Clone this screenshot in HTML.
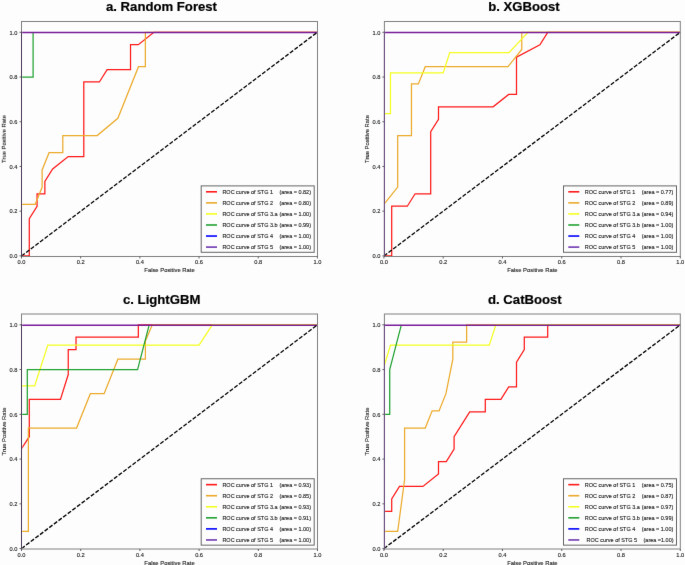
<!DOCTYPE html>
<html><head><meta charset="utf-8"><style>
html,body{margin:0;padding:0;background:#fdfdfd;}
svg{display:block;}
text{font-family:"Liberation Sans", sans-serif;}
.t{font-size:5.7px;fill:#222;stroke:#222;stroke-width:0.12px;}
.al{font-size:5.85px;fill:#222;stroke:#222;stroke-width:0.12px;}
.l{font-size:5.5px;fill:#222;stroke:#222;stroke-width:0.12px;}
.ti{font-size:13.15px;font-weight:bold;fill:#000;stroke:#000;stroke-width:0.2px;}
</style></head><body>
<svg width="685" height="565" viewBox="0 0 685 565">
<defs>
<filter id="bl" x="0" y="0" width="685" height="565" filterUnits="userSpaceOnUse" color-interpolation-filters="sRGB"><feConvolveMatrix order="3" kernelMatrix="0.0028 0.0470 0.0028 0.0470 0.8008 0.0470 0.0028 0.0470 0.0028" divisor="1" edgeMode="duplicate"/></filter>
<clipPath id="ca"><rect x="22.2" y="21.5" width="295.30" height="234.70"/></clipPath>
<clipPath id="cb"><rect x="385.09999999999997" y="21.5" width="295.20" height="234.70"/></clipPath>
<clipPath id="cc"><rect x="22.2" y="314.0" width="295.30" height="234.70"/></clipPath>
<clipPath id="cd"><rect x="385.09999999999997" y="314.0" width="295.20" height="234.70"/></clipPath>
</defs>
<g filter="url(#bl)"><rect width="685" height="565" fill="#fdfdfd"/>
<g clip-path="url(#ca)" fill="none" stroke-width="1.25" stroke-linejoin="miter">
<polyline points="20.60,255.90 29.29,255.90 29.29,218.63 37.07,206.21 37.07,193.79 44.86,193.79 44.86,181.37 52.65,168.94 68.22,156.52 83.79,156.52 83.79,81.99 99.37,81.99 107.16,69.57 130.52,69.57 130.52,44.72 138.30,44.72 153.88,32.30 317.40,32.30" stroke="#ff1a1a"/>
<polyline points="20.60,255.90 20.60,204.30 35.26,204.30 42.14,187.10 42.14,169.90 49.03,152.70 62.79,152.70 62.79,135.50 97.20,135.50 117.84,118.30 138.48,66.70 145.37,66.70 145.37,32.30 317.40,32.30" stroke="#ecaa2c"/>
<polyline points="20.60,255.90 20.60,77.02 33.10,77.02 33.10,32.30" stroke="#22a232"/>
<polyline points="20.60,255.90 20.60,32.30 317.40,32.30" stroke="#7a1e98" stroke-width="1.55" transform="translate(0,0.1)"/>
<line x1="21.5" y1="255.9" x2="317.40" y2="32.30" stroke="#000" stroke-width="1.3" stroke-dasharray="4.1 1.7"/>
</g>
<rect x="21.5" y="21.5" width="296.00" height="235.00" fill="none" stroke="#808080" stroke-width="1"/>
<line x1="21.5" y1="31.60" x2="21.5" y2="257.0" stroke="#4a3858" stroke-width="1"/>
<line x1="21.50" y1="256.5" x2="21.50" y2="258.5" stroke="#555" stroke-width="0.9"/>
<line x1="19.5" y1="255.90" x2="21.5" y2="255.90" stroke="#555" stroke-width="0.9"/>
<text x="21.50" y="264.10" text-anchor="middle" class="t">0.0</text>
<text x="17.50" y="258.20" text-anchor="end" class="t">0.0</text>
<line x1="80.68" y1="256.5" x2="80.68" y2="258.5" stroke="#555" stroke-width="0.9"/>
<line x1="19.5" y1="211.18" x2="21.5" y2="211.18" stroke="#555" stroke-width="0.9"/>
<text x="80.68" y="264.10" text-anchor="middle" class="t">0.2</text>
<text x="17.50" y="213.48" text-anchor="end" class="t">0.2</text>
<line x1="139.86" y1="256.5" x2="139.86" y2="258.5" stroke="#555" stroke-width="0.9"/>
<line x1="19.5" y1="166.46" x2="21.5" y2="166.46" stroke="#555" stroke-width="0.9"/>
<text x="139.86" y="264.10" text-anchor="middle" class="t">0.4</text>
<text x="17.50" y="168.76" text-anchor="end" class="t">0.4</text>
<line x1="199.04" y1="256.5" x2="199.04" y2="258.5" stroke="#555" stroke-width="0.9"/>
<line x1="19.5" y1="121.74" x2="21.5" y2="121.74" stroke="#555" stroke-width="0.9"/>
<text x="199.04" y="264.10" text-anchor="middle" class="t">0.6</text>
<text x="17.50" y="124.04" text-anchor="end" class="t">0.6</text>
<line x1="258.22" y1="256.5" x2="258.22" y2="258.5" stroke="#555" stroke-width="0.9"/>
<line x1="19.5" y1="77.02" x2="21.5" y2="77.02" stroke="#555" stroke-width="0.9"/>
<text x="258.22" y="264.10" text-anchor="middle" class="t">0.8</text>
<text x="17.50" y="79.32" text-anchor="end" class="t">0.8</text>
<line x1="317.40" y1="256.5" x2="317.40" y2="258.5" stroke="#555" stroke-width="0.9"/>
<line x1="19.5" y1="32.30" x2="21.5" y2="32.30" stroke="#555" stroke-width="0.9"/>
<text x="317.40" y="264.10" text-anchor="middle" class="t">1.0</text>
<text x="17.50" y="34.60" text-anchor="end" class="t">1.0</text>
<text x="169.50" y="272.30" text-anchor="middle" class="al">False Positive Rate</text>
<text transform="translate(5.80,139.00) rotate(-90)" text-anchor="middle" class="al">True Positive Rate</text>
<text x="106.0" y="10.8" class="ti">a. Random Forest</text>
<rect x="201.20" y="185.90" width="113.0" height="66.4" fill="#fdfdfd" stroke="#666" stroke-width="1"/>
<line x1="206.00" y1="191.80" x2="217.00" y2="191.80" stroke="#ff1a1a" stroke-width="1.6"/>
<text transform="translate(222.40,193.90) scale(1,1.1)" class="l">ROC curve of STG 1</text>
<text transform="translate(279.40,193.90) scale(1,1.1)" class="l">(area = 0.82)</text>
<line x1="206.00" y1="202.86" x2="217.00" y2="202.86" stroke="#ecaa2c" stroke-width="1.6"/>
<text transform="translate(222.40,204.96) scale(1,1.1)" class="l">ROC curve of STG 2</text>
<text transform="translate(279.40,204.96) scale(1,1.1)" class="l">(area = 0.80)</text>
<line x1="206.00" y1="213.92" x2="217.00" y2="213.92" stroke="#f4ff1c" stroke-width="1.6"/>
<text transform="translate(222.40,216.02) scale(1,1.1)" class="l">ROC curve of STG 3.a</text>
<text transform="translate(279.40,216.02) scale(1,1.1)" class="l">(area = 1.00)</text>
<line x1="206.00" y1="224.98" x2="217.00" y2="224.98" stroke="#22a232" stroke-width="1.6"/>
<text transform="translate(222.40,227.08) scale(1,1.1)" class="l">ROC curve of STG 3.b</text>
<text transform="translate(279.40,227.08) scale(1,1.1)" class="l">(area = 0.99)</text>
<line x1="206.00" y1="236.04" x2="217.00" y2="236.04" stroke="#0000ff" stroke-width="1.6"/>
<text transform="translate(222.40,238.14) scale(1,1.1)" class="l">ROC curve of STG 4</text>
<text transform="translate(279.40,238.14) scale(1,1.1)" class="l">(area = 1.00)</text>
<line x1="206.00" y1="247.10" x2="217.00" y2="247.10" stroke="#7038b0" stroke-width="1.6"/>
<text transform="translate(222.40,249.20) scale(1,1.1)" class="l">ROC curve of STG 5</text>
<text transform="translate(279.40,249.20) scale(1,1.1)" class="l">(area = 1.00)</text>
<g clip-path="url(#cb)" fill="none" stroke-width="1.25" stroke-linejoin="miter">
<polyline points="383.00,255.90 391.70,255.90 391.70,206.21 407.30,206.21 415.10,193.79 430.70,193.79 430.70,131.68 438.50,119.26 438.50,106.83 493.10,106.83 508.70,94.41 516.50,94.41 516.50,57.14 539.90,44.72 547.70,32.30 680.30,32.30" stroke="#ff1a1a"/>
<polyline points="383.00,255.90 383.00,204.30 383.90,204.30 397.69,187.10 397.69,135.50 411.47,135.50 411.47,83.90 418.37,83.90 425.26,66.70 507.97,66.70 521.76,49.50 521.76,32.30 680.30,32.30" stroke="#ecaa2c"/>
<polyline points="383.00,255.90 383.00,113.61 390.49,113.61 390.49,72.95 443.18,72.95 449.77,52.63 509.05,52.63 527.95,32.30 680.30,32.30" stroke="#f4ff1c"/>
<polyline points="383.00,255.90 383.00,32.30 680.30,32.30" stroke="#7a1e98" stroke-width="1.55" transform="translate(0,0.1)"/>
<line x1="383.9" y1="255.9" x2="680.30" y2="32.30" stroke="#000" stroke-width="1.3" stroke-dasharray="4.1 1.7"/>
</g>
<rect x="384.4" y="21.5" width="295.90" height="235.00" fill="none" stroke="#808080" stroke-width="1"/>
<line x1="384.4" y1="31.60" x2="384.4" y2="257.0" stroke="#6a4880" stroke-width="1"/>
<line x1="383.90" y1="256.5" x2="383.90" y2="258.5" stroke="#555" stroke-width="0.9"/>
<line x1="382.4" y1="255.90" x2="384.4" y2="255.90" stroke="#555" stroke-width="0.9"/>
<text x="383.90" y="264.10" text-anchor="middle" class="t">0.0</text>
<text x="380.40" y="258.20" text-anchor="end" class="t">0.0</text>
<line x1="443.18" y1="256.5" x2="443.18" y2="258.5" stroke="#555" stroke-width="0.9"/>
<line x1="382.4" y1="211.18" x2="384.4" y2="211.18" stroke="#555" stroke-width="0.9"/>
<text x="443.18" y="264.10" text-anchor="middle" class="t">0.2</text>
<text x="380.40" y="213.48" text-anchor="end" class="t">0.2</text>
<line x1="502.46" y1="256.5" x2="502.46" y2="258.5" stroke="#555" stroke-width="0.9"/>
<line x1="382.4" y1="166.46" x2="384.4" y2="166.46" stroke="#555" stroke-width="0.9"/>
<text x="502.46" y="264.10" text-anchor="middle" class="t">0.4</text>
<text x="380.40" y="168.76" text-anchor="end" class="t">0.4</text>
<line x1="561.74" y1="256.5" x2="561.74" y2="258.5" stroke="#555" stroke-width="0.9"/>
<line x1="382.4" y1="121.74" x2="384.4" y2="121.74" stroke="#555" stroke-width="0.9"/>
<text x="561.74" y="264.10" text-anchor="middle" class="t">0.6</text>
<text x="380.40" y="124.04" text-anchor="end" class="t">0.6</text>
<line x1="621.02" y1="256.5" x2="621.02" y2="258.5" stroke="#555" stroke-width="0.9"/>
<line x1="382.4" y1="77.02" x2="384.4" y2="77.02" stroke="#555" stroke-width="0.9"/>
<text x="621.02" y="264.10" text-anchor="middle" class="t">0.8</text>
<text x="380.40" y="79.32" text-anchor="end" class="t">0.8</text>
<line x1="680.30" y1="256.5" x2="680.30" y2="258.5" stroke="#555" stroke-width="0.9"/>
<line x1="382.4" y1="32.30" x2="384.4" y2="32.30" stroke="#555" stroke-width="0.9"/>
<text x="680.30" y="264.10" text-anchor="middle" class="t">1.0</text>
<text x="380.40" y="34.60" text-anchor="end" class="t">1.0</text>
<text x="532.35" y="272.30" text-anchor="middle" class="al">False Positive Rate</text>
<text transform="translate(368.70,139.00) rotate(-90)" text-anchor="middle" class="al">True Positive Rate</text>
<text x="488.2" y="10.8" class="ti">b. XGBoost</text>
<rect x="563.50" y="185.90" width="113.0" height="66.4" fill="#fdfdfd" stroke="#666" stroke-width="1"/>
<line x1="568.30" y1="191.80" x2="579.30" y2="191.80" stroke="#ff1a1a" stroke-width="1.6"/>
<text transform="translate(584.70,193.90) scale(1,1.1)" class="l">ROC curve of STG 1</text>
<text transform="translate(641.70,193.90) scale(1,1.1)" class="l">(area = 0.77)</text>
<line x1="568.30" y1="202.86" x2="579.30" y2="202.86" stroke="#ecaa2c" stroke-width="1.6"/>
<text transform="translate(584.70,204.96) scale(1,1.1)" class="l">ROC curve of STG 2</text>
<text transform="translate(641.70,204.96) scale(1,1.1)" class="l">(area = 0.89)</text>
<line x1="568.30" y1="213.92" x2="579.30" y2="213.92" stroke="#f4ff1c" stroke-width="1.6"/>
<text transform="translate(584.70,216.02) scale(1,1.1)" class="l">ROC curve of STG 3.a</text>
<text transform="translate(641.70,216.02) scale(1,1.1)" class="l">(area = 0.94)</text>
<line x1="568.30" y1="224.98" x2="579.30" y2="224.98" stroke="#22a232" stroke-width="1.6"/>
<text transform="translate(584.70,227.08) scale(1,1.1)" class="l">ROC curve of STG 3.b</text>
<text transform="translate(641.70,227.08) scale(1,1.1)" class="l">(area = 1.00)</text>
<line x1="568.30" y1="236.04" x2="579.30" y2="236.04" stroke="#0000ff" stroke-width="1.6"/>
<text transform="translate(584.70,238.14) scale(1,1.1)" class="l">ROC curve of STG 4</text>
<text transform="translate(641.70,238.14) scale(1,1.1)" class="l">(area = 1.00)</text>
<line x1="568.30" y1="247.10" x2="579.30" y2="247.10" stroke="#7038b0" stroke-width="1.6"/>
<text transform="translate(584.70,249.20) scale(1,1.1)" class="l">ROC curve of STG 5</text>
<text transform="translate(641.70,249.20) scale(1,1.1)" class="l">(area = 1.00)</text>
<g clip-path="url(#cc)" fill="none" stroke-width="1.25" stroke-linejoin="miter">
<polyline points="20.60,548.60 20.60,448.56 21.50,448.56 29.29,436.70 29.29,399.40 60.45,399.40 68.24,374.53 68.24,349.67 76.03,349.67 76.03,337.23 138.34,337.23 138.34,324.80 317.50,324.80" stroke="#ff1a1a"/>
<polyline points="20.60,548.60 20.60,531.38 28.38,531.38 28.38,428.09 76.57,428.09 90.34,393.66 104.10,393.66 117.87,359.23 145.41,359.23 145.41,340.91 152.29,324.80 317.50,324.80" stroke="#ecaa2c"/>
<polyline points="20.60,548.60 20.60,385.84 34.66,385.84 47.81,345.15 199.10,345.15 212.26,324.80 317.50,324.80" stroke="#f4ff1c"/>
<polyline points="20.60,548.60 20.60,414.32 27.30,414.32 27.30,369.56 137.58,369.56 149.19,324.80" stroke="#22a232"/>
<polyline points="20.60,548.60 20.60,324.80 317.50,324.80" stroke="#7a1e98" stroke-width="1.55" transform="translate(0,0.5)"/>
<line x1="21.5" y1="548.6" x2="317.50" y2="324.80" stroke="#000" stroke-width="1.3" stroke-dasharray="4.1 1.7"/>
</g>
<rect x="21.5" y="314.0" width="296.00" height="235.00" fill="none" stroke="#808080" stroke-width="1"/>
<line x1="21.5" y1="324.10" x2="21.5" y2="549.5" stroke="#4a3858" stroke-width="1"/>
<line x1="21.50" y1="549.0" x2="21.50" y2="551.0" stroke="#555" stroke-width="0.9"/>
<line x1="19.5" y1="548.60" x2="21.5" y2="548.60" stroke="#555" stroke-width="0.9"/>
<text x="21.50" y="556.60" text-anchor="middle" class="t">0.0</text>
<text x="17.50" y="550.90" text-anchor="end" class="t">0.0</text>
<line x1="80.70" y1="549.0" x2="80.70" y2="551.0" stroke="#555" stroke-width="0.9"/>
<line x1="19.5" y1="503.84" x2="21.5" y2="503.84" stroke="#555" stroke-width="0.9"/>
<text x="80.70" y="556.60" text-anchor="middle" class="t">0.2</text>
<text x="17.50" y="506.14" text-anchor="end" class="t">0.2</text>
<line x1="139.90" y1="549.0" x2="139.90" y2="551.0" stroke="#555" stroke-width="0.9"/>
<line x1="19.5" y1="459.08" x2="21.5" y2="459.08" stroke="#555" stroke-width="0.9"/>
<text x="139.90" y="556.60" text-anchor="middle" class="t">0.4</text>
<text x="17.50" y="461.38" text-anchor="end" class="t">0.4</text>
<line x1="199.10" y1="549.0" x2="199.10" y2="551.0" stroke="#555" stroke-width="0.9"/>
<line x1="19.5" y1="414.32" x2="21.5" y2="414.32" stroke="#555" stroke-width="0.9"/>
<text x="199.10" y="556.60" text-anchor="middle" class="t">0.6</text>
<text x="17.50" y="416.62" text-anchor="end" class="t">0.6</text>
<line x1="258.30" y1="549.0" x2="258.30" y2="551.0" stroke="#555" stroke-width="0.9"/>
<line x1="19.5" y1="369.56" x2="21.5" y2="369.56" stroke="#555" stroke-width="0.9"/>
<text x="258.30" y="556.60" text-anchor="middle" class="t">0.8</text>
<text x="17.50" y="371.86" text-anchor="end" class="t">0.8</text>
<line x1="317.50" y1="549.0" x2="317.50" y2="551.0" stroke="#555" stroke-width="0.9"/>
<line x1="19.5" y1="324.80" x2="21.5" y2="324.80" stroke="#555" stroke-width="0.9"/>
<text x="317.50" y="556.60" text-anchor="middle" class="t">1.0</text>
<text x="17.50" y="327.10" text-anchor="end" class="t">1.0</text>
<text x="169.50" y="564.80" text-anchor="middle" class="al">False Positive Rate</text>
<text transform="translate(5.80,431.50) rotate(-90)" text-anchor="middle" class="al">True Positive Rate</text>
<text x="123.0" y="303.9" class="ti">c. LightGBM</text>
<rect x="201.20" y="478.75" width="113.0" height="66.4" fill="#fdfdfd" stroke="#666" stroke-width="1"/>
<line x1="206.00" y1="484.65" x2="217.00" y2="484.65" stroke="#ff1a1a" stroke-width="1.6"/>
<text transform="translate(222.40,486.75) scale(1,1.1)" class="l">ROC curve of STG 1</text>
<text transform="translate(279.40,486.75) scale(1,1.1)" class="l">(area = 0.93)</text>
<line x1="206.00" y1="495.71" x2="217.00" y2="495.71" stroke="#ecaa2c" stroke-width="1.6"/>
<text transform="translate(222.40,497.81) scale(1,1.1)" class="l">ROC curve of STG 2</text>
<text transform="translate(279.40,497.81) scale(1,1.1)" class="l">(area = 0.85)</text>
<line x1="206.00" y1="506.77" x2="217.00" y2="506.77" stroke="#f4ff1c" stroke-width="1.6"/>
<text transform="translate(222.40,508.87) scale(1,1.1)" class="l">ROC curve of STG 3.a</text>
<text transform="translate(279.40,508.87) scale(1,1.1)" class="l">(area = 0.93)</text>
<line x1="206.00" y1="517.83" x2="217.00" y2="517.83" stroke="#22a232" stroke-width="1.6"/>
<text transform="translate(222.40,519.93) scale(1,1.1)" class="l">ROC curve of STG 3.b</text>
<text transform="translate(279.40,519.93) scale(1,1.1)" class="l">(area = 0.91)</text>
<line x1="206.00" y1="528.89" x2="217.00" y2="528.89" stroke="#0000ff" stroke-width="1.6"/>
<text transform="translate(222.40,530.99) scale(1,1.1)" class="l">ROC curve of STG 4</text>
<text transform="translate(279.40,530.99) scale(1,1.1)" class="l">(area = 1.00)</text>
<line x1="206.00" y1="539.95" x2="217.00" y2="539.95" stroke="#7038b0" stroke-width="1.6"/>
<text transform="translate(222.40,542.05) scale(1,1.1)" class="l">ROC curve of STG 5</text>
<text transform="translate(279.40,542.05) scale(1,1.1)" class="l">(area = 1.00)</text>
<g clip-path="url(#cd)" fill="none" stroke-width="1.25" stroke-linejoin="miter">
<polyline points="383.00,548.60 383.00,511.30 391.70,511.30 391.70,498.87 399.50,486.43 422.90,486.43 438.50,474.00 438.50,461.57 446.30,461.57 454.10,449.13 454.10,436.70 469.70,411.83 485.30,411.83 485.30,399.40 500.90,399.40 508.70,386.97 516.50,386.97 516.50,362.10 524.30,349.67 524.30,337.23 547.70,337.23 547.70,324.80 680.30,324.80" stroke="#ff1a1a"/>
<polyline points="383.00,548.60 383.00,531.38 397.69,531.38 404.58,479.74 404.58,428.09 425.26,428.09 432.15,410.88 439.04,410.88 445.94,393.66 452.83,359.23 452.83,342.02 466.62,342.02 466.62,324.80 680.30,324.80" stroke="#ecaa2c"/>
<polyline points="383.00,548.60 383.00,366.87 383.90,366.87 390.49,345.15 489.29,345.15 495.87,324.80 680.30,324.80" stroke="#f4ff1c"/>
<polyline points="383.00,548.60 383.00,414.32 389.71,414.32 389.71,369.56 401.34,324.80" stroke="#22a232"/>
<polyline points="383.00,548.60 383.00,324.80 680.30,324.80" stroke="#7a1e98" stroke-width="1.55" transform="translate(0,0.5)"/>
<line x1="383.9" y1="548.6" x2="680.30" y2="324.80" stroke="#000" stroke-width="1.3" stroke-dasharray="4.1 1.7"/>
</g>
<rect x="384.4" y="314.0" width="295.90" height="235.00" fill="none" stroke="#808080" stroke-width="1"/>
<line x1="384.4" y1="324.10" x2="384.4" y2="549.5" stroke="#6a4880" stroke-width="1"/>
<line x1="383.90" y1="549.0" x2="383.90" y2="551.0" stroke="#555" stroke-width="0.9"/>
<line x1="382.4" y1="548.60" x2="384.4" y2="548.60" stroke="#555" stroke-width="0.9"/>
<text x="383.90" y="556.60" text-anchor="middle" class="t">0.0</text>
<text x="380.40" y="550.90" text-anchor="end" class="t">0.0</text>
<line x1="443.18" y1="549.0" x2="443.18" y2="551.0" stroke="#555" stroke-width="0.9"/>
<line x1="382.4" y1="503.84" x2="384.4" y2="503.84" stroke="#555" stroke-width="0.9"/>
<text x="443.18" y="556.60" text-anchor="middle" class="t">0.2</text>
<text x="380.40" y="506.14" text-anchor="end" class="t">0.2</text>
<line x1="502.46" y1="549.0" x2="502.46" y2="551.0" stroke="#555" stroke-width="0.9"/>
<line x1="382.4" y1="459.08" x2="384.4" y2="459.08" stroke="#555" stroke-width="0.9"/>
<text x="502.46" y="556.60" text-anchor="middle" class="t">0.4</text>
<text x="380.40" y="461.38" text-anchor="end" class="t">0.4</text>
<line x1="561.74" y1="549.0" x2="561.74" y2="551.0" stroke="#555" stroke-width="0.9"/>
<line x1="382.4" y1="414.32" x2="384.4" y2="414.32" stroke="#555" stroke-width="0.9"/>
<text x="561.74" y="556.60" text-anchor="middle" class="t">0.6</text>
<text x="380.40" y="416.62" text-anchor="end" class="t">0.6</text>
<line x1="621.02" y1="549.0" x2="621.02" y2="551.0" stroke="#555" stroke-width="0.9"/>
<line x1="382.4" y1="369.56" x2="384.4" y2="369.56" stroke="#555" stroke-width="0.9"/>
<text x="621.02" y="556.60" text-anchor="middle" class="t">0.8</text>
<text x="380.40" y="371.86" text-anchor="end" class="t">0.8</text>
<line x1="680.30" y1="549.0" x2="680.30" y2="551.0" stroke="#555" stroke-width="0.9"/>
<line x1="382.4" y1="324.80" x2="384.4" y2="324.80" stroke="#555" stroke-width="0.9"/>
<text x="680.30" y="556.60" text-anchor="middle" class="t">1.0</text>
<text x="380.40" y="327.10" text-anchor="end" class="t">1.0</text>
<text x="532.35" y="564.80" text-anchor="middle" class="al">False Positive Rate</text>
<text transform="translate(368.70,431.50) rotate(-90)" text-anchor="middle" class="al">True Positive Rate</text>
<text x="488.0" y="303.9" class="ti">d. CatBoost</text>
<rect x="563.50" y="478.75" width="113.0" height="66.4" fill="#fdfdfd" stroke="#666" stroke-width="1"/>
<line x1="568.30" y1="484.65" x2="579.30" y2="484.65" stroke="#ff1a1a" stroke-width="1.6"/>
<text transform="translate(584.70,486.75) scale(1,1.1)" class="l">ROC curve of STG 1</text>
<text transform="translate(641.70,486.75) scale(1,1.1)" class="l">(area = 0.75)</text>
<line x1="568.30" y1="495.71" x2="579.30" y2="495.71" stroke="#ecaa2c" stroke-width="1.6"/>
<text transform="translate(584.70,497.81) scale(1,1.1)" class="l">ROC curve of STG 2</text>
<text transform="translate(641.70,497.81) scale(1,1.1)" class="l">(area = 0.87)</text>
<line x1="568.30" y1="506.77" x2="579.30" y2="506.77" stroke="#f4ff1c" stroke-width="1.6"/>
<text transform="translate(584.70,508.87) scale(1,1.1)" class="l">ROC curve of STG 3.a</text>
<text transform="translate(641.70,508.87) scale(1,1.1)" class="l">(area = 0.97)</text>
<line x1="568.30" y1="517.83" x2="579.30" y2="517.83" stroke="#22a232" stroke-width="1.6"/>
<text transform="translate(584.70,519.93) scale(1,1.1)" class="l">ROC curve of STG 3.b</text>
<text transform="translate(641.70,519.93) scale(1,1.1)" class="l">(area = 0.99)</text>
<line x1="568.30" y1="528.89" x2="579.30" y2="528.89" stroke="#0000ff" stroke-width="1.6"/>
<text transform="translate(584.70,530.99) scale(1,1.1)" class="l">ROC curve of STG 4</text>
<text transform="translate(641.70,530.99) scale(1,1.1)" class="l">(area = 1.00)</text>
<line x1="568.30" y1="539.95" x2="579.30" y2="539.95" stroke="#7038b0" stroke-width="1.6"/>
<text transform="translate(586.50,542.05) scale(1,1.1)" class="l">ROC curve of STG 5</text>
<text transform="translate(643.50,542.05) scale(1,1.1)" class="l">(area =1.00)</text>
</g>
</svg>
</body></html>
